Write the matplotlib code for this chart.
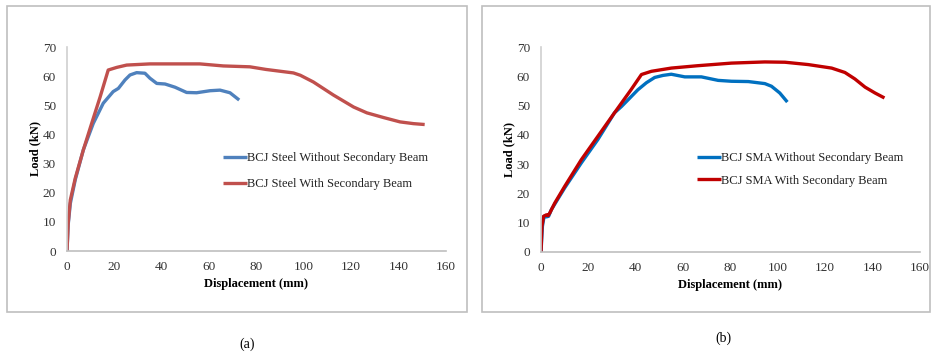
import matplotlib
matplotlib.use("Agg")
import matplotlib.pyplot as plt
from matplotlib.patches import Rectangle

plt.rcParams['font.family'] = ['Liberation Serif', 'DejaVu Serif']

# ---- Data (a) Steel ----
steel_without_x = [0, 0.5, 1.4, 3.5, 6.9, 11.1, 15.3, 19.5, 21.7, 24.5, 26.6, 29.4, 32.9, 35, 37.9, 41.4, 45.6, 50.5, 54.7, 60.4, 64.6, 68.8, 72.7]
steel_without_y = [0, 9, 16.3, 24.5, 34.7, 43.8, 50.7, 54.7, 55.8, 58.7, 60.4, 61.2, 61, 59.3, 57.5, 57.3, 56.2, 54.4, 54.3, 55, 55.2, 54.3, 51.8]
steel_with_x = [0, 0.5, 1.4, 3.5, 6.9, 10.5, 14, 17.4, 21, 25.2, 35, 56.1, 66, 77.2, 84, 95.6, 98.5, 104, 112.5, 121, 126.6, 133.6, 140.6, 146.3, 151]
steel_with_y = [0, 9.5, 17.5, 25, 34.7, 44, 52.9, 62.1, 63, 63.8, 64.2, 64.2, 63.5, 63.2, 62.3, 61.1, 60.3, 58, 53.5, 49.4, 47.4, 45.8, 44.3, 43.7, 43.4]

# ---- Data (b) SMA ----
sma_without_x = [0, 0.6, 1.3, 2.3, 3.2, 4.4, 10, 17, 24, 31, 34, 36.8, 40.9, 44.5, 48, 51.5, 55, 60.7, 67.7, 74.8, 80.4, 87.5, 94.5, 97.3, 100.8, 104]
sma_without_y = [0, 8.8, 12.2, 12, 12.2, 14.5, 21.9, 30.4, 38.4, 47.5, 49.7, 52, 55.4, 57.8, 59.6, 60.3, 60.7, 59.8, 59.8, 58.6, 58.3, 58.2, 57.5, 56.6, 54.3, 51.2]
sma_with_x = [0, 0.4, 1.1, 2.3, 3, 3.7, 5.8, 10, 17, 24, 31, 38, 42.4, 46.6, 55, 66, 80.4, 94.5, 103, 112.8, 122.7, 128.3, 132.5, 136.8, 141, 145]
sma_with_y = [0, 8.8, 12.2, 12.7, 12.4, 13.3, 16.7, 22.4, 31.5, 39.5, 47.5, 55.4, 60.6, 61.7, 62.8, 63.6, 64.5, 64.9, 64.8, 64, 62.8, 61.3, 59.1, 56.3, 54.3, 52.6]

x_ticks = [0, 20, 40, 60, 80, 100, 120, 140, 160]
y_ticks = [0, 10, 20, 30, 40, 50, 60, 70]

W, H = 931, 356
fig = plt.figure(figsize=(W / 100, H / 100), dpi=100)

def fx(px):
    return px / W

def fy(py):
    return 1 - py / H

# panel frames
for (x0, x1) in [(7, 467), (482, 930)]:
    fig.patches.append(Rectangle((fx(x0), fy(312)), fx(x1 - x0), (312 - 6) / H,
                                 transform=fig.transFigure, fill=False,
                                 edgecolor='#BFBFBF', linewidth=1.2))

def make_panel(left_px, bottom_px, top_px, series, leg_xy, leg_spacing, caption_xy, caption):
    ax = fig.add_axes([fx(left_px), fy(bottom_px), 379 / W, (bottom_px - top_px) / H])
    for xs, ys, color, label in series:
        ax.plot(xs, ys, color=color, linewidth=2.4, label=label,
                solid_capstyle='butt', solid_joinstyle='round')
    ax.set_xlim(0, 160)
    ax.set_ylim(0, 70)
    ax.set_xticks(x_ticks)
    ax.set_yticks(y_ticks)
    ax.tick_params(length=0, labelsize=9.5, pad=8, colors='#333333')
    ax.tick_params(axis='x', pad=7)
    for s in ['top', 'right']:
        ax.spines[s].set_visible(False)
    ax.spines['left'].set_color('#D0D0D0')
    ax.spines['bottom'].set_color('#BFBFBF')
    ax.spines['left'].set_linewidth(1.2)
    ax.spines['bottom'].set_linewidth(1.2)
    ax.set_xlabel('Displacement (mm)', fontsize=9, fontweight='bold', labelpad=4)
    ax.set_ylabel('Load (kN)', fontsize=9, fontweight='bold', labelpad=1)
    ax.patch.set_alpha(0)
    leg = ax.legend(loc='upper left', bbox_to_anchor=(fx(leg_xy[0]), fy(leg_xy[1])),
                    bbox_transform=fig.transFigure, frameon=False, fontsize=9,
                    handlelength=1.9, handletextpad=0.0, borderpad=0, borderaxespad=0,
                    labelspacing=leg_spacing)
    for t in leg.get_texts():
        t.set_color('#222222')
    fig.text(fx(caption_xy[0]), fy(caption_xy[1]), caption, ha='center', va='center', fontsize=10)
    return ax

make_panel(67, 251, 47,
           [(steel_without_x, steel_without_y, '#4F81BD', 'BCJ Steel Without Secondary Beam'),
            (steel_with_x, steel_with_y, '#C0504D', 'BCJ Steel With Secondary Beam')],
           (223, 152), 1.12, (247, 344), '(a)')
make_panel(541, 252, 47,
           [(sma_without_x, sma_without_y, '#0070C0', 'BCJ SMA Without Secondary Beam'),
            (sma_with_x, sma_with_y, '#C00000', 'BCJ SMA With Secondary Beam')],
           (697, 152), 0.85, (723, 338), '(b)')

fig.savefig('out.png', dpi=100)
